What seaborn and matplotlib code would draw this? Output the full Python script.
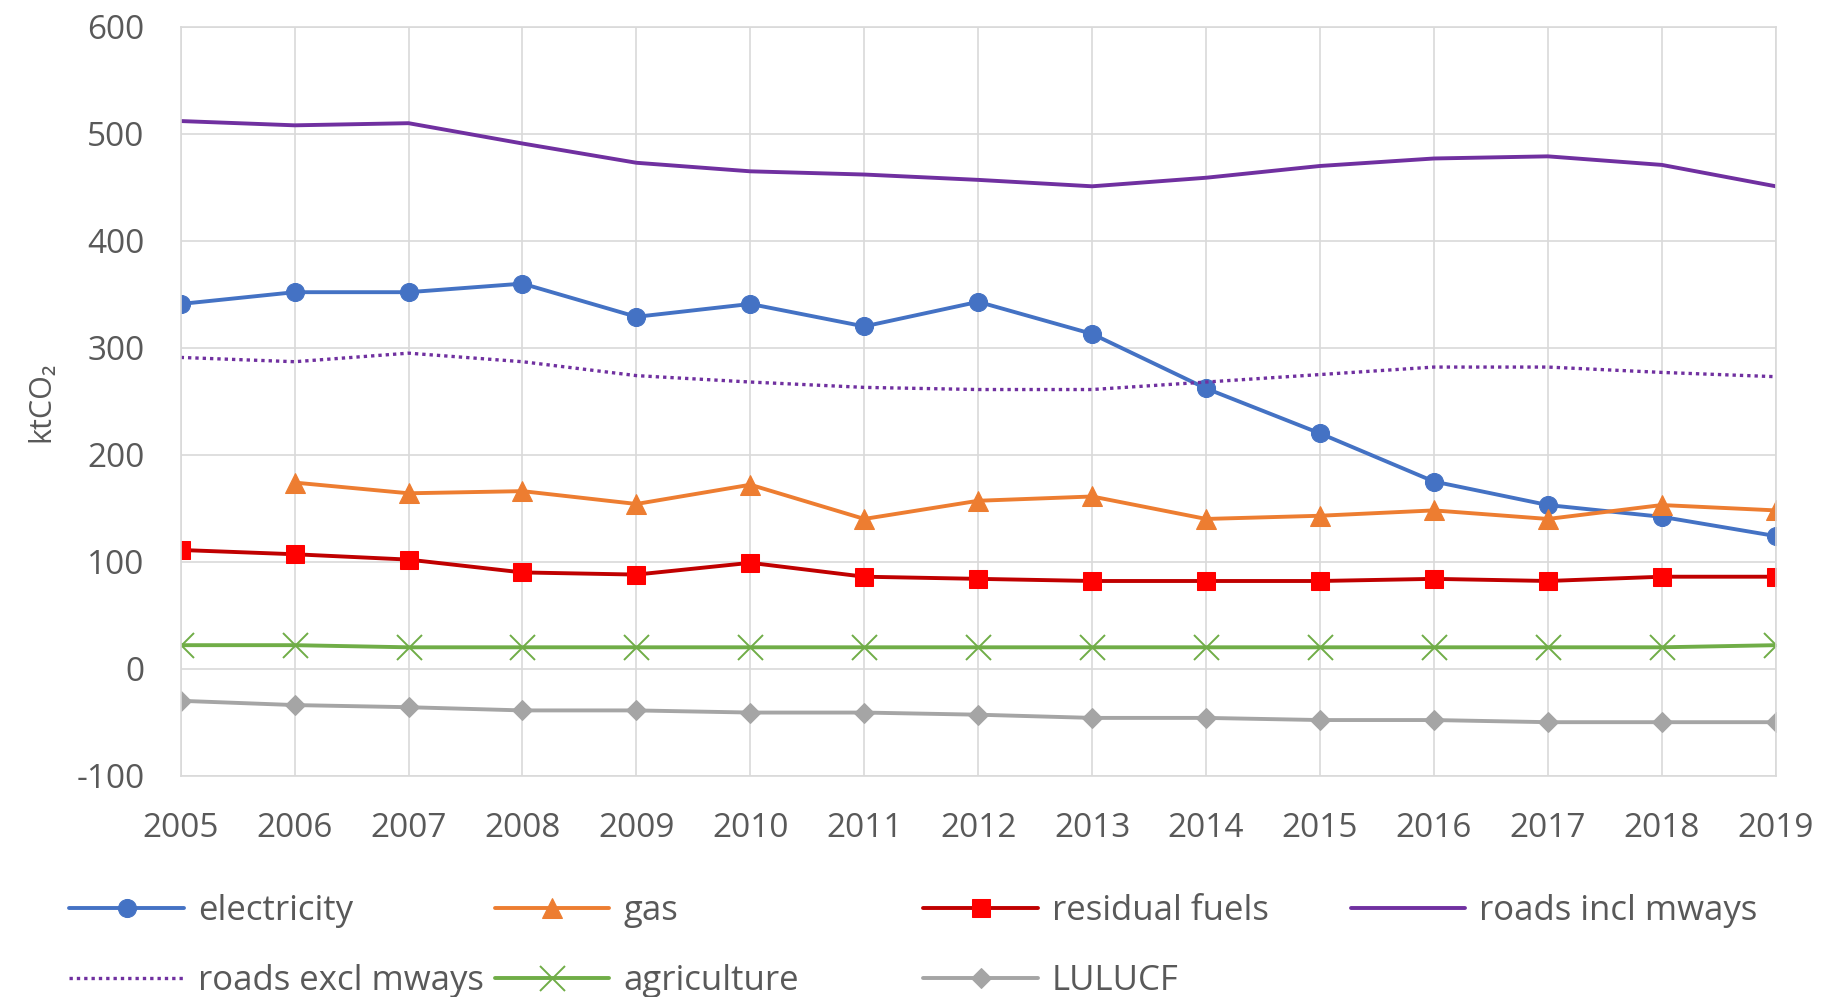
import numpy as np
import pandas as pd
import matplotlib
matplotlib.use("Agg")
import matplotlib.pyplot as plt
import seaborn as sns

years = list(range(2005, 2020))
electricity = [341, 352, 352, 360, 329, 341, 320, 343, 313, 262, 220, 175, 153, 142, 124]
gas = [np.nan, 174, 164, 166, 154, 172, 140, 157, 161, 140, 143, 148, 140, 153, 148]
residual_fuels = [111, 107, 102, 90, 88, 99, 86, 84, 82, 82, 82, 84, 82, 86, 86]
roads_incl = [512, 508, 510, 491, 473, 465, 462, 457, 451, 459, 470, 477, 479, 471, 451]
roads_excl = [291, 287, 295, 287, 274, 268, 263, 261, 261, 268, 275, 282, 282, 277, 273]
agriculture = [22, 22, 20, 20, 20, 20, 20, 20, 20, 20, 20, 20, 20, 20, 22]
lulucf = [-30, -34, -36, -39, -39, -41, -41, -43, -46, -46, -48, -48, -50, -50, -50]
y_ticks = [-100, 0, 100, 200, 300, 400, 500, 600]

sns.set_style("white")
plt.rcParams["font.family"] = ["Open Sans", "DejaVu Sans"]
plt.rcParams["axes.unicode_minus"] = False
text_col = "#595959"
grid_col = "#D9D9D9"

fig = plt.figure(figsize=(18.25, 9.97), dpi=100)
ax = fig.add_axes([0.099, 0.222, 0.874, 0.751])

series = [
    ("electricity", electricity, dict(color="#4472C4", marker="o", markersize=13,
                                      markeredgecolor="#4472C4", linewidth=2.8)),
    ("gas", gas, dict(color="#ED7D31", marker="^", markersize=14,
                      markeredgecolor="#ED7D31", linewidth=2.8)),
    ("residual fuels", residual_fuels, dict(color="#C00000", marker="s", markersize=13,
                                            markerfacecolor="#FF0000", markeredgecolor="#FF0000", linewidth=2.8)),
    ("roads incl mways", roads_incl, dict(color="#7030A0", linewidth=2.8)),
    ("roads excl mways", roads_excl, dict(color="#7030A0", linewidth=2.4, linestyle=(0, (1, 1.2)))),
    ("agriculture", agriculture, dict(color="#70AD47", marker="x", markersize=18, markeredgewidth=1.4,
                                      markeredgecolor="#70AD47", linewidth=2.8)),
    ("LULUCF", lulucf, dict(color="#A5A5A5", marker="D", markersize=10,
                            markeredgecolor="#A5A5A5", linewidth=2.8)),
]

handles = {}
for name, vals, kw in series:
    sns.lineplot(x=years, y=vals, ax=ax, label=name, **kw)
    handles[name] = ax.get_lines()[-1]
ax.get_legend().remove()

ax.set_xlim(2005, 2019)
ax.set_ylim(-100, 600)
ax.set_xticks(years)
ax.set_yticks(y_ticks)
ax.grid(True, color=grid_col, linewidth=1.2)
ax.set_axisbelow(True)
for sp in ax.spines.values():
    sp.set_color(grid_col)
    sp.set_linewidth(1.2)
ax.tick_params(axis="x", length=0, pad=26, labelsize=24, labelcolor=text_col)
ax.tick_params(axis="y", length=0, pad=26, labelsize=24, labelcolor=text_col)
ax.set_ylabel("ktCO₂", fontsize=22, color=text_col, labelpad=14)

# legend columns placed like the Excel legend, two rows
columns = [
    (0.038, ["electricity", "roads excl mways"]),
    (0.271, ["gas", "agriculture"]),
    (0.506, ["residual fuels", "LULUCF"]),
    (0.740, ["roads incl mways"]),
]
for x0, names in columns:
    fig.legend([handles[n] for n in names], names, loc="upper left",
               bbox_to_anchor=(x0, 0.103), borderaxespad=0, borderpad=0,
               frameon=False, fontsize=25, labelcolor=text_col,
               handlelength=3.3, handletextpad=0.4, labelspacing=1.02)

fig.savefig("out.png", dpi=100)
